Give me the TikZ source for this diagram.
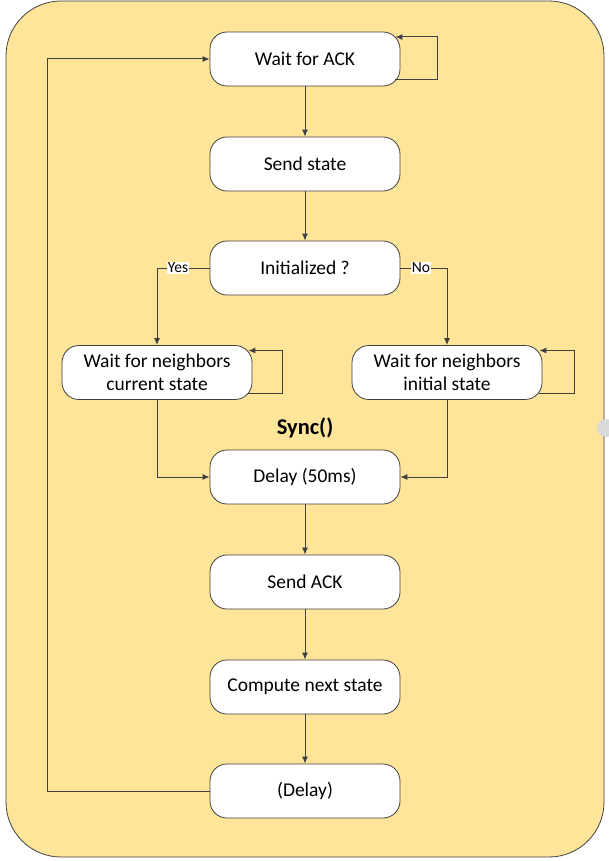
\documentclass[tikz,border=0pt]{standalone}
\usepackage{fontspec}
\setmainfont{Carlito}
\usetikzlibrary{positioning, calc, arrows.meta}
\definecolor{panel}{RGB}{255,229,153}
\definecolor{edge}{RGB}{64,64,64}

\begin{document}
\begin{tikzpicture}[x=1pt,y=-1pt,
    state/.style={draw=edge,line width=0.8pt,fill=white,rounded corners=17pt,
      minimum width=190pt,minimum height=54pt,align=center,inner sep=2pt,
      font=\fontsize{19.5}{23}\selectfont},
    flow/.style={draw=edge,line width=1pt,-{Latex[length=7pt,width=6pt]}},
    answer/.style={fill=white,inner sep=1pt,font=\fontsize{15.5}{17}\selectfont}]
    \useasboundingbox (0,0) rectangle (609,861);
    \filldraw[fill=panel,draw=edge,line width=0.8pt,rounded corners=55pt] (6,1) rectangle (604,857);
    \fill[black!15] (606,428) circle[radius=9];
    \node[state] (ack) at (305,59) {Wait for ACK};
    \node[state] (send) at (305,164) {Send state};
    \node[state] (init) at (305,268) {Initialized ?};
    \node[state] (cur) at (157,372.5) {Wait for neighbors\\current state};
    \node[state] (ini) at (447,372.5) {Wait for neighbors\\initial state};
    \node[font=\fontsize{22.5}{26}\selectfont\bfseries] (sync) at (305,428) {Sync()};
    \node[state] (delay) at (305,477) {Delay (50ms)};
    \node[state] (sendack) at (305,582) {Send ACK};
    \node[state] (compute) at (305,687) {Compute next state};
    \node[state] (wait) at (305,791) {(Delay)};
    \coordinate (back) at (47,791);
    \draw[flow] (ack.south) -- (send.north);
    \draw[flow] (send.south) -- (init.north);
    \draw[flow] (init.west) -| node[answer,pos=0.3]{Yes} (cur.north);
    \draw[flow] (init.east) -| node[answer,pos=0.22]{No} (ini.north);
    \draw[flow] (cur.south) |- (delay.west);
    \draw[flow] (ini.south) |- (delay.east);
    \draw[flow] (delay.south) -- (sendack.north);
    \draw[flow] (sendack.south) -- (compute.north);
    \draw[flow] (compute.south) -- (wait.north);
    \draw[flow] (wait.west) -- (back) |- (ack.west);
    \draw[flow] ($(ack.east)+(-5,21)$) -- ++(42,0) |- ($(ack.east)+(-5,-22)$);
    \draw[flow] ($(cur.east)+(-4,21)$) -- ++(34,0) |- ($(cur.east)+(-4,-22)$);
    \draw[flow] ($(ini.east)+(-3,21)$) -- ++(35,0) |- ($(ini.east)+(-3,-22)$);
\end{tikzpicture}
\end{document}
